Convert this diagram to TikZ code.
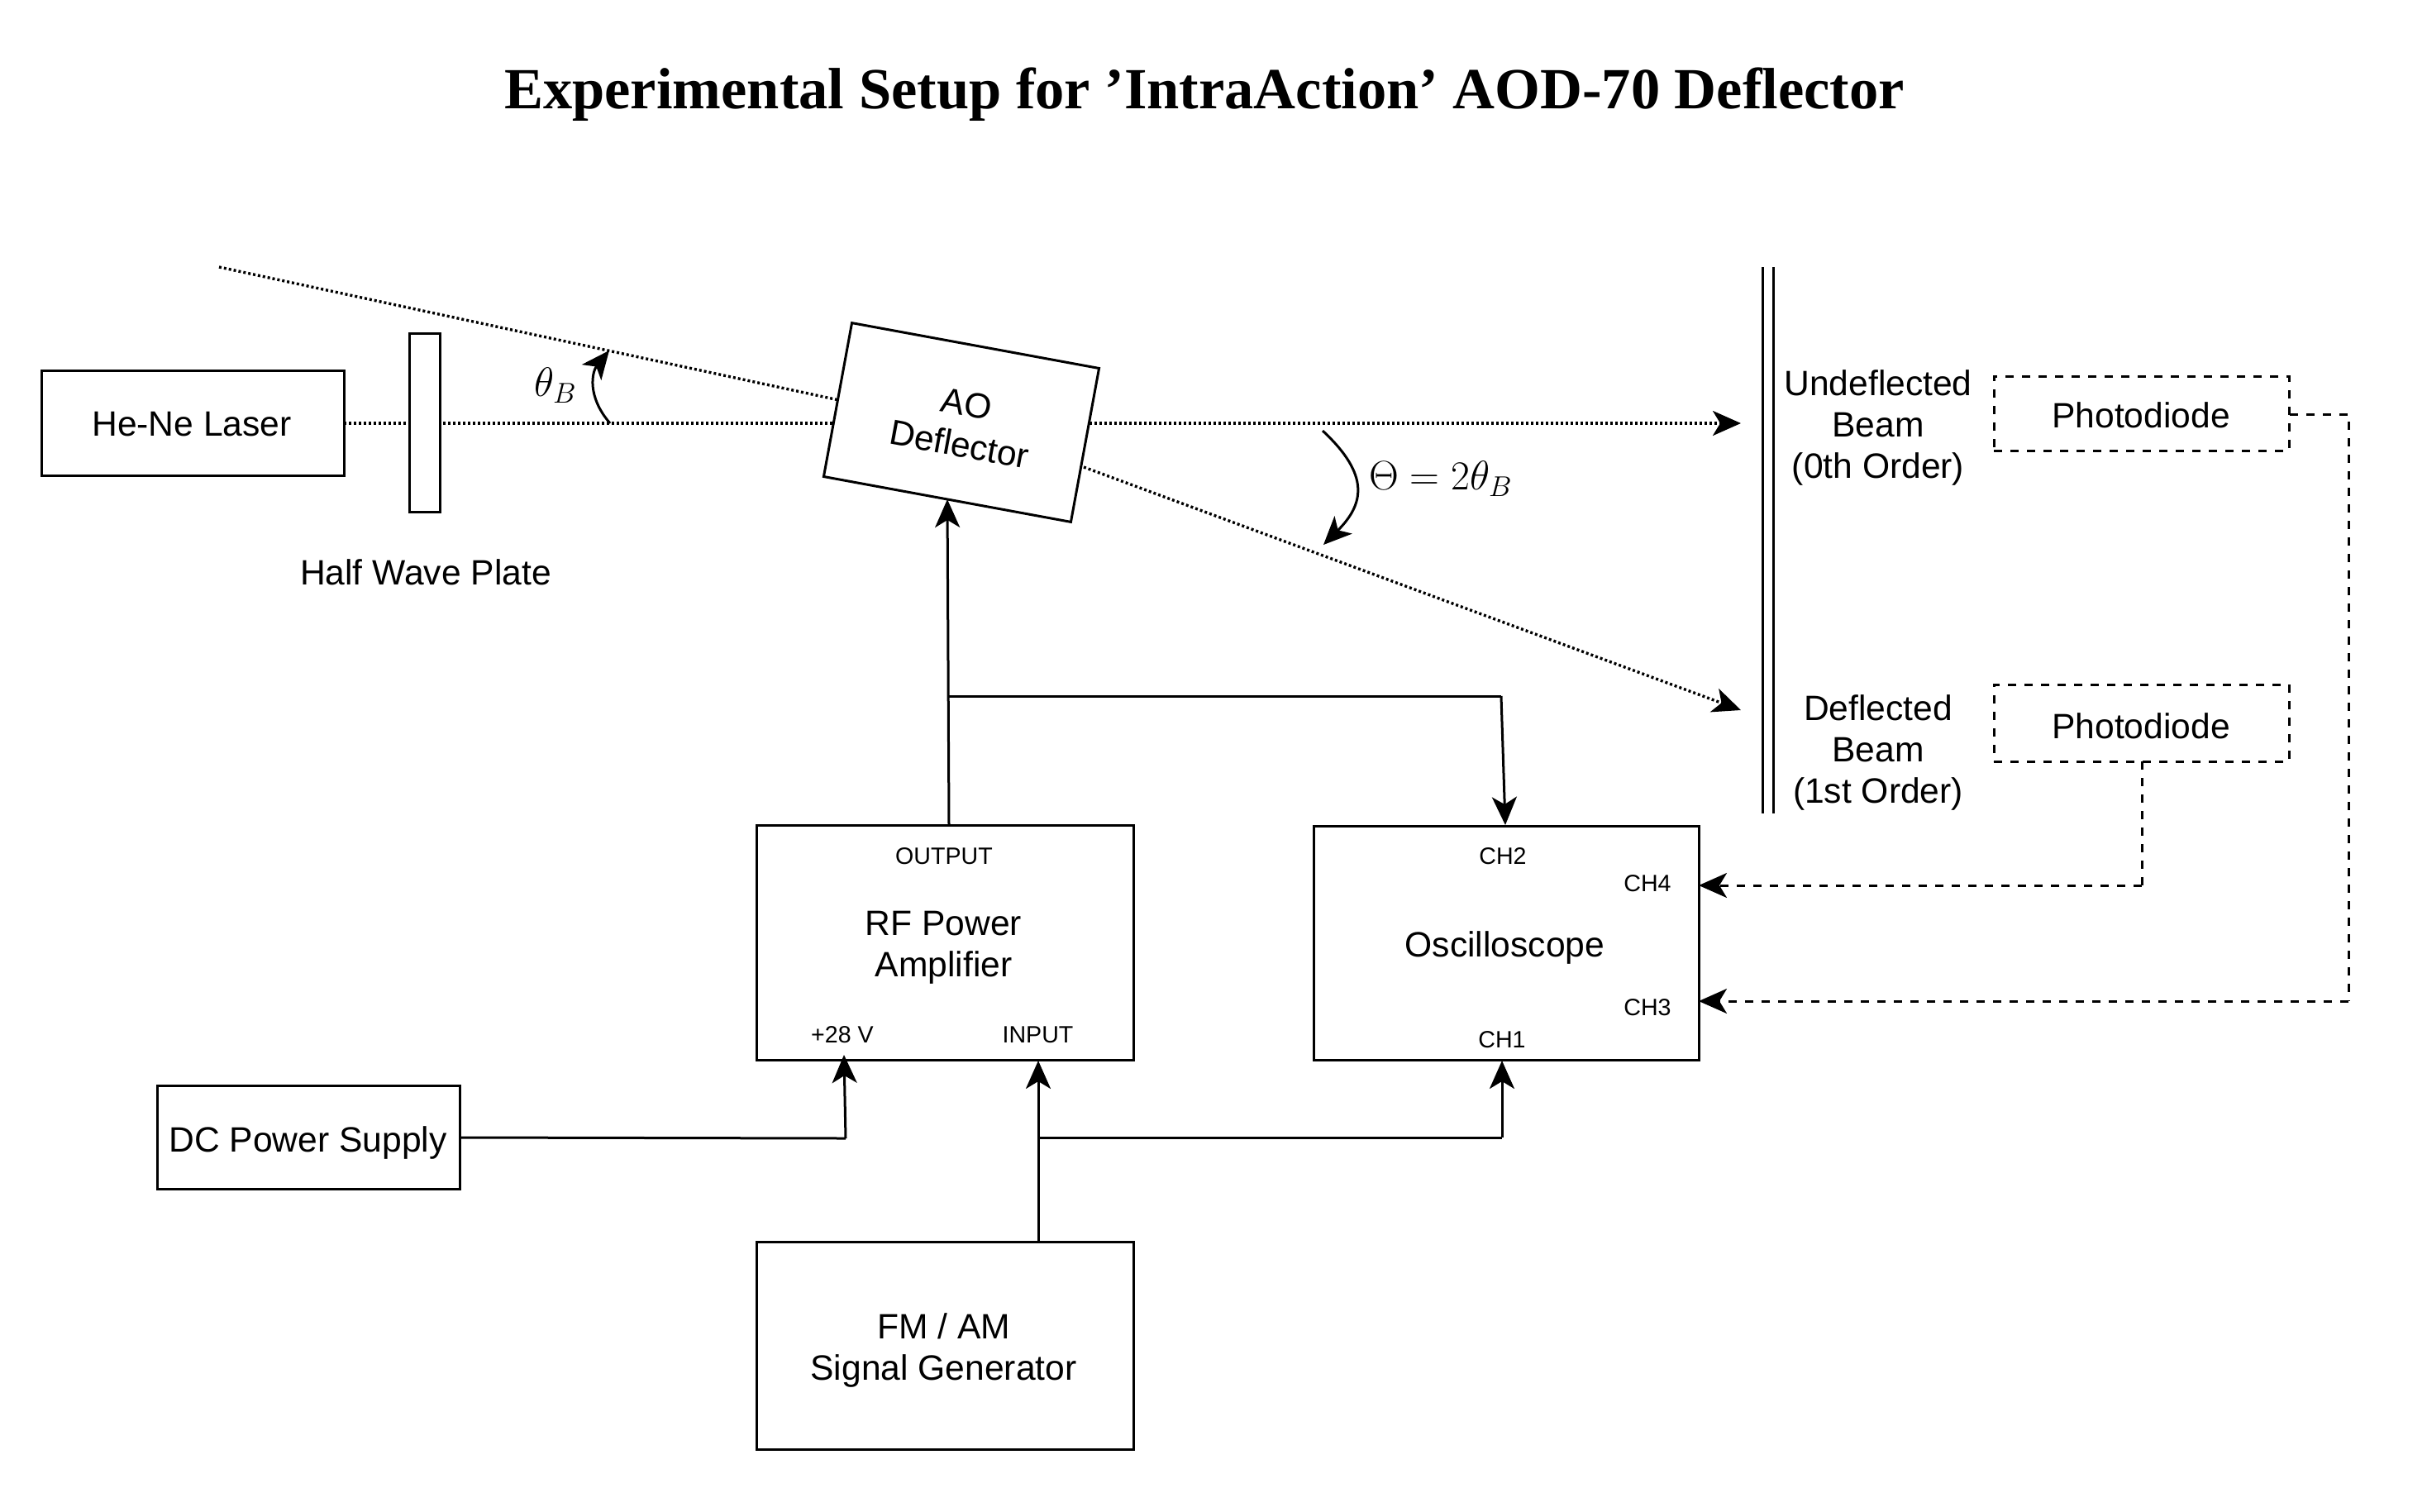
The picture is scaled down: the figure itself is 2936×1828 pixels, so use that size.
\documentclass[tikz,border=0pt]{standalone}
\usepackage{fontspec}
\setmainfont{Liberation Sans}
\newfontfamily\titlefont{Liberation Serif}
\usetikzlibrary{arrows.meta}
\tikzset{
  box/.style={draw=black,line width=1.5pt,fill=white,rectangle,inner sep=0pt},
  dashbox/.style={box,dash pattern=on 5pt off 5pt},
  lbl/.style={inner sep=0pt,align=center,font=\fontsize{21.3}{25}\selectfont},
  small/.style={inner sep=0pt,align=center,font=\fontsize{14.3}{17}\selectfont},
  mathlbl/.style={inner sep=0pt,font=\fontsize{24.3}{28}\selectfont},
  wire/.style={line width=1.5pt},
  arr/.style={wire,-{Stealth[length=17pt,width=15pt,inset=4.5pt]}},
  dotbeam/.style={line width=1.7pt,dash pattern=on 1.5pt off 1.5pt},
  dashwire/.style={wire,dash pattern=on 5pt off 5pt},
}
\begin{document}
\begin{tikzpicture}[x=0.5pt,y=-0.5pt]
\useasboundingbox (0,0) rectangle (2936,1828);
\node[inner sep=0pt,font=\titlefont\bfseries\fontsize{35.25}{42}\selectfont] (title) at (1457,114) {Experimental Setup for ’IntraAction’ AOD-70 Deflector};

% beams (under the boxes)
\coordinate (topstart) at (265,323);
\coordinate (aoL) at (1015,484);
\coordinate (beamA) at (1318,512);
\coordinate (beamB) at (2106,512);
\coordinate (defA) at (1311,565);
\coordinate (defB) at (2106,859);
\coordinate (beamL) at (416,512);
\coordinate (aoLh) at (1014,512);
\draw[dotbeam] (topstart) -- (aoL);
\draw[dotbeam] (beamL) -- (aoLh);
\draw[dotbeam,-{Stealth[length=17pt,width=15pt,inset=4.5pt]}] (beamA) -- (beamB);
\draw[dotbeam,-{Stealth[length=17pt,width=15pt,inset=4.5pt]}] (defA) -- (defB);

\node[box,minimum width=183pt,minimum height=63.5pt] (laser) at (233,511.5) {};
\node[lbl] (lasertext) at (232,513.5) {He-Ne Laser};
\node[box,minimum width=18.2pt,minimum height=108pt,outer sep=2pt] (hwp) at (514,511) {};
\node[lbl] (hwplabel) at (515,692) {Half Wave Plate};
\node[box,rotate=-10.4,minimum width=152pt,minimum height=94.5pt] (aod) at (1163,511) {};
\node[lbl,rotate=-10.4] (aodtext) at (1165,513) {AO\\Deflector};

\node[mathlbl] (thetab) at (672,466) {$\theta_B$};
\coordinate (tbA) at (738,512);
\coordinate (tbB) at (737,424);
\draw[arr] (tbA) .. controls (710,480) and (716,450) .. (tbB);
\node[mathlbl] (bigtheta) at (1743,579) {$\Theta = 2\theta_B$};
\coordinate (btA) at (1600,521);
\coordinate (btB) at (1601,659);
\draw[arr] (btA) .. controls (1658,575) and (1650,610) .. (btB);

% screen
\coordinate (s1t) at (2132,323);
\coordinate (s1b) at (2132,984);
\coordinate (s2t) at (2145.5,323);
\coordinate (s2b) at (2145.5,984);
\draw[wire] (s1t) -- (s1b);
\draw[wire] (s2t) -- (s2b);

\node[lbl] (undef) at (2272,517) {Undeflected\\Beam\\(0th Order)};
\node[lbl] (def) at (2272,910) {Deflected\\Beam\\(1st Order)};
\node[dashbox,minimum width=178.5pt,minimum height=45pt] (pd1) at (2590.5,500) {};
\node[lbl] (pd1text) at (2590,502) {Photodiode};
\node[dashbox,minimum width=178.5pt,minimum height=46.5pt] (pd2) at (2590.5,874.5) {};
\node[lbl] (pd2text) at (2590,878) {Photodiode};

% RF amplifier
\node[box,minimum width=228pt,minimum height=142pt] (rf) at (1143,1140) {};
\node[lbl] (rftext) at (1141.5,1146.5) {RF Power\\Amplifier};
\node[small] (out) at (1142,1036) {OUTPUT};
\node[small] (v28) at (1019,1252) {+28 V};
\node[small] (inp) at (1255.5,1252) {INPUT};

% oscilloscope
\node[box,minimum width=233pt,minimum height=141.5pt] (osc) at (1822,1140.5) {};
\node[lbl] (osctext) at (1820.5,1146) {Oscilloscope};
\node[small] (ch2) at (1818,1036) {CH2};
\node[small] (ch4) at (1993,1069) {CH4};
\node[small] (ch3) at (1993,1219) {CH3};
\node[small] (ch1) at (1817,1258) {CH1};

\node[box,minimum width=183pt,minimum height=62.5pt] (dc) at (373,1376) {};
\node[lbl] (dctext) at (372.5,1382) {DC Power Supply};
\node[box,minimum width=228pt,minimum height=125.5pt] (sg) at (1143,1627.5) {};
\node[lbl] (sgtext) at (1141.5,1633) {FM / AM\\Signal Generator};

% solid connectors
\coordinate (rfOut) at (1148,998);
\coordinate (aodIn) at (1146,604);
\coordinate (split) at (1147,842);
\coordinate (splitR) at (1816,842);
\coordinate (oscTop) at (1821,998);
\draw[arr] (rfOut) -- (aodIn);
\draw[wire] (split) -- (splitR);
\draw[arr] (splitR) -- (oscTop);

\coordinate (dcOut) at (dc.east);
\coordinate (dcCorner) at (1023,1377);
\coordinate (rfV) at (1021,1276);
\draw[wire] (dcOut) -- (dcCorner);
\draw[arr] (dcCorner) -- (rfV);

\coordinate (sgOut) at (1256,1502);
\coordinate (rfIn) at (1256,1283);
\coordinate (split2) at (1256,1376);
\coordinate (split2R) at (1817,1376);
\coordinate (oscBot) at (1817,1283);
\draw[arr] (sgOut) -- (rfIn);
\draw[wire] (split2) -- (split2R);
\draw[arr] (split2R) -- (oscBot);

% dashed connectors
\coordinate (pd1R) at (2770,501);
\coordinate (c1) at (2841,501);
\coordinate (c2) at (2841,1211);
\coordinate (osc3) at (2055,1211);
\draw[dashwire] (pd1R) -- (c1) -- (c2);
\draw[dashwire,-{Stealth[length=17pt,width=15pt,inset=4.5pt]}] (c2) -- (osc3);
\coordinate (pd2B) at (2591,921);
\coordinate (c3) at (2591,1071);
\coordinate (osc4) at (2055,1071);
\draw[dashwire] (pd2B) -- (c3);
\draw[dashwire,-{Stealth[length=17pt,width=15pt,inset=4.5pt]}] (c3) -- (osc4);
\end{tikzpicture}
\end{document}
